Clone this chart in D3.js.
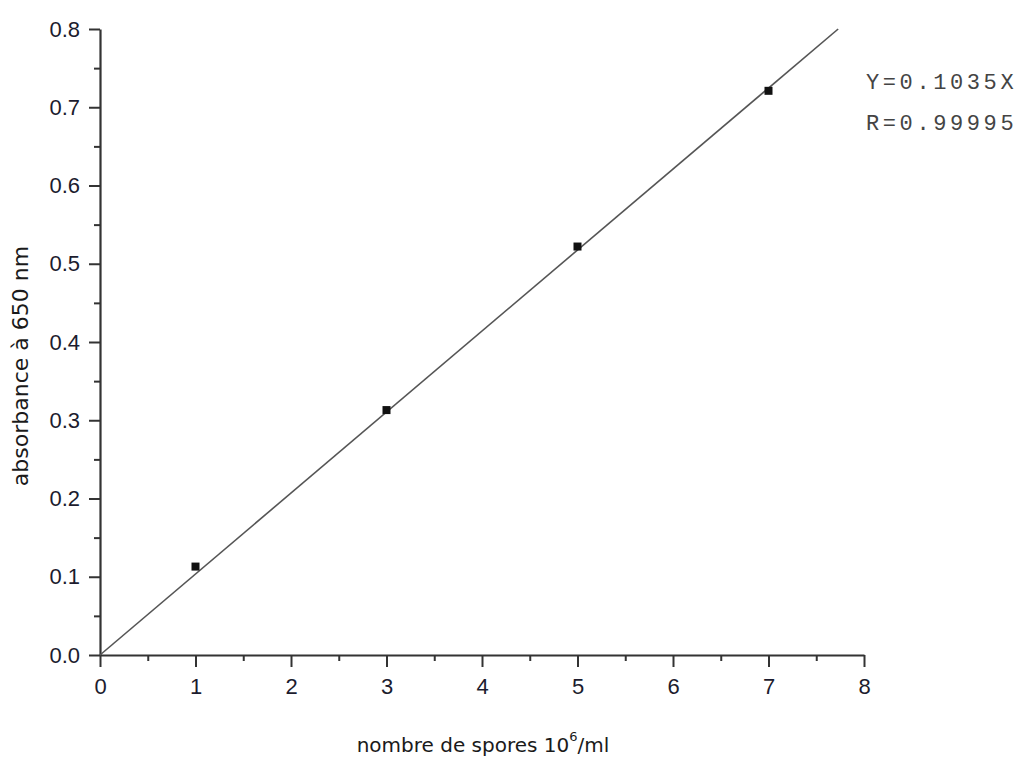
<!DOCTYPE html>
<html>
<head>
<meta charset="utf-8">
<script src="https://cdn.jsdelivr.net/npm/d3@7"></script>
<style>
  body { margin: 0; background: #fff; }
  svg { display: block; }
</style>
</head>
<body>
<div id="chart"></div>
<script>
///////////////////// DATA /////////////////////////
let spores = [1, 3, 5, 7];
let absorbance = [0.113, 0.313, 0.522, 0.721];
let slope = 0.1035;
let x_ticks = [0, 1, 2, 3, 4, 5, 6, 7, 8];
let y_ticks = [0.0, 0.1, 0.2, 0.3, 0.4, 0.5, 0.6, 0.7, 0.8];
let fit_text = ["Y=0.1035X", "R=0.99995"];

///////////////////// CHART /////////////////////////
let margin = {top: 29, right: 163, bottom: 108, left: 100},
    width = 1027 - margin.left - margin.right,
    height = 763 - margin.top - margin.bottom;

var svg = d3.select("#chart")
    .append("svg")
    .attr("width", 1027)
    .attr("height", 763)
    .append("g")
    .attr("transform", "translate(" + margin.left + "," + margin.top + ")");

let x_scale = d3.scaleLinear().domain([0, 8]).range([0, width]);
let y_scale = d3.scaleLinear().domain([0, 0.8]).range([height, 0]);

let tick_font = "Liberation Sans, Arial, sans-serif";

// minor ticks (half steps)
svg.append("g")
    .attr("transform", "translate(0," + height + ")")
    .call(d3.axisBottom(x_scale).tickValues(d3.range(0.5, 8, 1)).tickSize(6).tickFormat(""))
    .call(g => g.select(".domain").remove())
    .selectAll("line").attr("stroke", "#333").attr("stroke-width", 2);

svg.append("g")
    .call(d3.axisLeft(y_scale).tickValues(d3.range(0.05, 0.8, 0.1)).tickSize(6).tickFormat(""))
    .call(g => g.select(".domain").remove())
    .selectAll("line").attr("stroke", "#333").attr("stroke-width", 2);

// x axis
let gx = svg.append("g")
    .attr("transform", "translate(0," + height + ")")
    .call(d3.axisBottom(x_scale).tickValues(x_ticks).tickSize(12).tickSizeOuter(0).tickPadding(11).tickFormat(d3.format("d")));
gx.select(".domain").attr("stroke", "#333").attr("stroke-width", 2.2);
gx.selectAll("line").attr("stroke", "#333").attr("stroke-width", 2);
gx.selectAll("text")
    .attr("font-family", tick_font)
    .attr("font-size", 22)
    .attr("fill", "#1c1c2e");

// y axis
let gy = svg.append("g")
    .call(d3.axisLeft(y_scale).tickValues(y_ticks).tickSize(11).tickSizeOuter(0).tickPadding(9).tickFormat(d3.format(".1f")));
gy.select(".domain").attr("stroke", "#333").attr("stroke-width", 2.2);
gy.selectAll("line").attr("stroke", "#333").attr("stroke-width", 2);
gy.selectAll("text")
    .attr("font-family", tick_font)
    .attr("font-size", 22)
    .attr("fill", "#1c1c2e");

// fit line, clipped at top of plot
let x_end = 0.8 / slope;
svg.append("line")
    .attr("x1", x_scale(0))
    .attr("y1", y_scale(0))
    .attr("x2", x_scale(x_end))
    .attr("y2", y_scale(slope * x_end))
    .attr("stroke", "#555")
    .attr("stroke-width", 1.6);

// points
svg.selectAll(".pt")
    .data(spores.map((s, i) => ({x: s, y: absorbance[i]})))
    .enter()
    .append("rect")
    .attr("class", "pt")
    .attr("x", d => x_scale(d.x) - 4)
    .attr("y", d => y_scale(d.y) - 4)
    .attr("width", 8)
    .attr("height", 8)
    .attr("fill", "#111");

// fit annotation
svg.selectAll(".fit")
    .data(fit_text)
    .enter()
    .append("text")
    .attr("x", width + 2)
    .attr("y", (d, i) => 60 + i * 41)
    .attr("font-family", "Liberation Mono, Courier New, monospace")
    .attr("font-size", 22)
    .style("letter-spacing", "3.6px")
    .attr("fill", "#444")
    .text(d => d);

// axis titles
let label_font = "DejaVu Sans, sans-serif";

let xt = svg.append("text")
    .attr("x", 483 - margin.left)
    .attr("y", 752 - margin.top)
    .attr("text-anchor", "middle")
    .attr("font-family", label_font)
    .attr("font-size", 20)
    .attr("fill", "#1a1a1a");
xt.append("tspan").text("nombre de spores 10");
xt.append("tspan").attr("dy", -11).attr("font-size", 13).text("6");
xt.append("tspan").attr("dy", 11).text("/ml");

svg.append("text")
    .attr("transform", "translate(" + (28 - margin.left) + "," + (366 - margin.top) + ") rotate(-90)")
    .attr("text-anchor", "middle")
    .attr("font-family", label_font)
    .attr("font-size", 22)
    .attr("fill", "#1a1a1a")
    .text("absorbance à 650 nm");
</script>
</body>
</html>
